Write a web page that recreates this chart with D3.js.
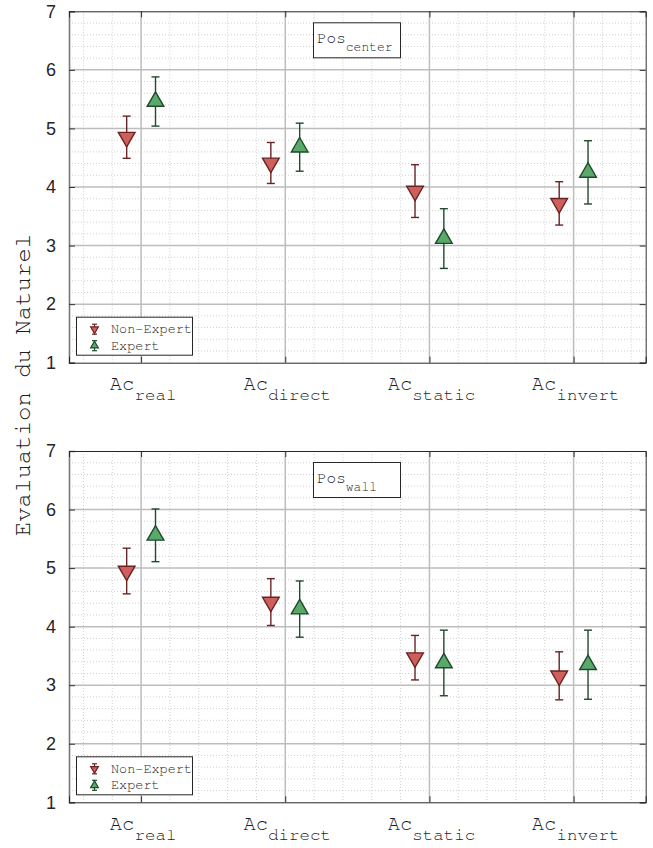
<!DOCTYPE html>
<html>
<head>
<meta charset="utf-8">
<script src="https://cdn.jsdelivr.net/npm/d3@7"></script>
<style>
  body { margin: 0; background: #fff; }
</style>
</head>
<body>
<div id="viz"></div>
<script>
"use strict";

// condition labels (subscripts of "Ac")
const categories = ["real", "direct", "static", "invert"];
const groups = ["Non-Expert", "Expert"];
const yTicks = [1, 2, 3, 4, 5, 6, 7];

// Pos_center
const centerNonExpert = [4.85, 4.41, 3.93, 3.72];
const centerNonExpertErr = [0.36, 0.35, 0.45, 0.37];
const centerExpert = [5.46, 4.68, 3.12, 4.25];
const centerExpertErr = [0.42, 0.41, 0.51, 0.54];

// Pos_wall
const wallNonExpert = [4.95, 4.42, 3.47, 3.16];
const wallNonExpertErr = [0.39, 0.40, 0.38, 0.41];
const wallExpert = [5.56, 4.30, 3.38, 3.35];
const wallExpertErr = [0.45, 0.48, 0.56, 0.59];

const panels = [
    {title: "center", top: 11.3, bottom: 362.7,
     ne: centerNonExpert, neErr: centerNonExpertErr, ex: centerExpert, exErr: centerExpertErr},
    {title: "wall", top: 451, bottom: 802.3,
     ne: wallNonExpert, neErr: wallNonExpertErr, ex: wallExpert, exErr: wallExpertErr}
];

const width = 653, height = 848;
const left = 69, right = 645.7;
const mono = "'Nimbus Mono PS', 'Nimbus Mono L', FreeMono, Courier, 'Liberation Mono', monospace";
const sans = "'Liberation Sans', Arial, sans-serif";
const textColor = "#1e1e1e";

const style = {
    "Non-Expert": {fill: "#cd5f5c", stroke: "#6b2222", rot: 180, off: -0.1},
    "Expert": {fill: "#5aa96a", stroke: "#1f4a2c", rot: 0, off: 0.1}
};

const svg = d3.select("#viz").append("svg")
    .attr("width", width)
    .attr("height", height);

const xScale = d3.scaleLinear().domain([0.5, 4.5]).range([left, right]);
const xMinor = d3.range(0.6, 4.45, 0.2).filter(v => Math.abs(v - Math.round(v)) > 0.01);
const yMinor = d3.range(1.2, 6.9, 0.2).filter(v => Math.abs(v - Math.round(v)) > 0.01);

const triangle = d3.symbol().type(d3.symbolTriangle).size(121)();
const triangleSmall = d3.symbol().type(d3.symbolTriangle).size(26)();

panels.forEach(p => {
    let yScale = d3.scaleLinear().domain([1, 7]).range([p.bottom, p.top]);
    let g = svg.append("g");

    // minor grid
    g.selectAll(".mx").data(xMinor).enter().append("line")
        .attr("x1", d => xScale(d)).attr("x2", d => xScale(d))
        .attr("y1", p.top).attr("y2", p.bottom)
        .attr("stroke", "#c4c4c4").attr("stroke-width", 0.8)
        .attr("stroke-dasharray", "1,2");
    g.selectAll(".my").data(yMinor).enter().append("line")
        .attr("x1", left).attr("x2", right)
        .attr("y1", d => yScale(d)).attr("y2", d => yScale(d))
        .attr("stroke", "#c4c4c4").attr("stroke-width", 0.8)
        .attr("stroke-dasharray", "1,2");

    // major grid
    g.selectAll(".gx").data([1, 2, 3, 4]).enter().append("line")
        .attr("x1", d => xScale(d)).attr("x2", d => xScale(d))
        .attr("y1", p.top).attr("y2", p.bottom)
        .attr("stroke", "#bdbdbd").attr("stroke-width", 1.5);
    g.selectAll(".gy").data(yTicks.slice(1, -1)).enter().append("line")
        .attr("x1", left).attr("x2", right)
        .attr("y1", d => yScale(d)).attr("y2", d => yScale(d))
        .attr("stroke", "#bdbdbd").attr("stroke-width", 1.5);

    // axes with inner ticks
    let yAxisL = d3.axisLeft(yScale).tickValues(yTicks).tickSize(-6).tickPadding(13)
        .tickFormat(d3.format("d"));
    g.append("g").attr("transform", `translate(${left},0)`).call(yAxisL)
        .call(a => a.select(".domain").attr("stroke", "#777").attr("stroke-width", 1.6))
        .call(a => a.selectAll(".tick line").attr("stroke", "#333"))
        .call(a => a.selectAll("text").attr("font-family", sans).attr("font-size", 18)
            .attr("fill", "#262626"));
    let yAxisR = d3.axisRight(yScale).tickValues(yTicks).tickSize(-6).tickFormat("");
    g.append("g").attr("transform", `translate(${right},0)`).call(yAxisR)
        .call(a => a.select(".domain").attr("stroke", "#333"))
        .call(a => a.selectAll(".tick line").attr("stroke", "#333"));
    let xAxisB = d3.axisBottom(xScale).tickValues([1, 2, 3, 4]).tickSize(-6).tickFormat("");
    g.append("g").attr("transform", `translate(0,${p.bottom})`).call(xAxisB)
        .call(a => a.select(".domain").attr("stroke", "#262626"))
        .call(a => a.selectAll(".tick line").attr("stroke", "#333"));
    let xAxisT = d3.axisTop(xScale).tickValues([1, 2, 3, 4]).tickSize(-6).tickFormat("");
    g.append("g").attr("transform", `translate(0,${p.top})`).call(xAxisT)
        .call(a => a.select(".domain").attr("stroke", "#262626"))
        .call(a => a.selectAll(".tick line").attr("stroke", "#333"));

    // category labels Ac_xxx
    categories.forEach((c, i) => {
        let t = g.append("text")
            .attr("x", xScale(i + 1) + 2)
            .attr("y", p.bottom + 27.5)
            .attr("text-anchor", "middle")
            .attr("font-family", mono)
            .attr("fill", textColor);
        t.append("tspan").attr("font-size", 20.5).text("Ac");
        t.append("tspan").attr("font-size", 17.5).attr("dy", 10).text(c);
    });

    // error bars and markers
    let rows = [];
    groups.forEach(gr => {
        let vals = gr === "Expert" ? p.ex : p.ne;
        let errs = gr === "Expert" ? p.exErr : p.neErr;
        vals.forEach((v, i) => rows.push({group: gr, x: i + 1 + style[gr].off, v: v, e: errs[i]}));
    });

    let eb = g.selectAll(".eb").data(rows).enter().append("g")
        .attr("stroke", d => style[d.group].stroke)
        .attr("stroke-width", 1.4);
    eb.append("line")
        .attr("x1", d => xScale(d.x)).attr("x2", d => xScale(d.x))
        .attr("y1", d => yScale(d.v - d.e)).attr("y2", d => yScale(d.v + d.e));
    eb.append("line")
        .attr("x1", d => xScale(d.x) - 4).attr("x2", d => xScale(d.x) + 4)
        .attr("y1", d => yScale(d.v + d.e)).attr("y2", d => yScale(d.v + d.e));
    eb.append("line")
        .attr("x1", d => xScale(d.x) - 4).attr("x2", d => xScale(d.x) + 4)
        .attr("y1", d => yScale(d.v - d.e)).attr("y2", d => yScale(d.v - d.e));
    eb.append("path")
        .attr("d", triangle)
        .attr("transform", d => `translate(${xScale(d.x)},${yScale(d.v)}) rotate(${style[d.group].rot})`)
        .attr("fill", d => style[d.group].fill);

    // title box
    g.append("rect")
        .attr("x", 313.5).attr("y", p.top + 11.5)
        .attr("width", 87).attr("height", 35)
        .attr("fill", "#fff").attr("stroke", "#262626").attr("stroke-width", 1);
    let tt = g.append("text")
        .attr("x", 317).attr("y", p.top + 31.5)
        .attr("font-family", mono).attr("fill", textColor);
    tt.append("tspan").attr("font-size", 16).text("Pos");
    tt.append("tspan").attr("font-size", 13).attr("dy", 8.5).text(p.title);

    // legend
    let lg = g.append("g").attr("transform", `translate(76.5,${p.bottom - 45.5})`);
    lg.append("rect")
        .attr("width", 116).attr("height", 38)
        .attr("fill", "#fff").attr("stroke", "#262626").attr("stroke-width", 1);
    groups.forEach((gr, i) => {
        let cy = 12 + i * 16.5;
        let it = lg.append("g").attr("stroke", style[gr].stroke).attr("stroke-width", 1.2);
        it.append("line").attr("x1", 18).attr("x2", 18).attr("y1", cy - 5).attr("y2", cy + 5);
        it.append("line").attr("x1", 15.5).attr("x2", 20.5).attr("y1", cy - 5).attr("y2", cy - 5);
        it.append("line").attr("x1", 15.5).attr("x2", 20.5).attr("y1", cy + 5).attr("y2", cy + 5);
        it.append("path").attr("d", triangleSmall)
            .attr("transform", `translate(18,${cy}) rotate(${style[gr].rot})`)
            .attr("fill", style[gr].fill);
        lg.append("text")
            .attr("x", 34.5).attr("y", cy)
            .attr("dominant-baseline", "central")
            .attr("font-family", mono).attr("font-size", 13.5)
            .attr("fill", textColor)
            .text(gr);
    });
});

// shared y label
svg.append("text")
    .attr("transform", "translate(30,385) rotate(-90)")
    .attr("text-anchor", "middle")
    .attr("font-family", mono)
    .attr("font-size", 24)
    .attr("fill", textColor)
    .text("Evaluation du Naturel");
</script>
</body>
</html>
